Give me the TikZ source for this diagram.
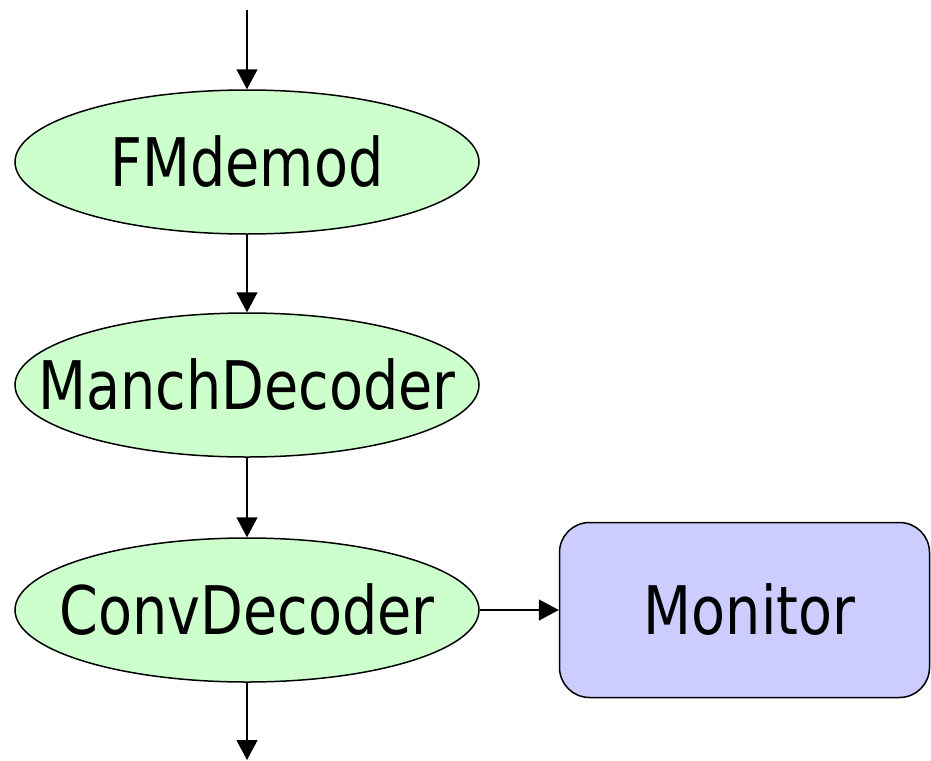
\documentclass[tikz,border=0pt]{standalone}
\usepackage{fontspec}
\setmainfont[FakeStretch=0.83]{DejaVu Sans}
\usetikzlibrary{shapes.geometric,arrows.meta}
\begin{document}
\begin{tikzpicture}[x=1pt,y=-1pt,
  txt/.style={font=\fontsize{67}{70}\selectfont,inner sep=0pt},
  proc/.style={ellipse,draw,line width=1.5pt,fill={rgb,255:red,204;green,255;blue,204},minimum width=464pt,minimum height=144pt,inner sep=0pt},
  mon/.style={rectangle,rounded corners=30pt,draw,line width=1.5pt,fill={rgb,255:red,204;green,204;blue,255},minimum width=370pt,minimum height=175pt,inner sep=0pt},
  conn/.style={line width=1.5pt,-{Triangle[length=20pt,width=21pt]}}]
\useasboundingbox (0,0) rectangle (931,760);
\coordinate (in) at (247,10);
\coordinate (out) at (247,760);
\node[proc] (fm) at (247,162) {};
\node[txt] (fmt) at (fm.center) {FMdemod};
\node[proc] (manch) at (247,385) {};
\node[txt] (mancht) at (manch.center) {ManchDecoder};
\node[proc] (conv) at (247,610) {};
\node[txt] (convt) at (conv.center) {ConvDecoder};
\node[mon] (monitor) at (744.5,610) {};
\node[txt] (monitort) at ([xshift=5pt]monitor.center) {Monitor};
\draw[conn] (in) -- (fm.north);
\draw[conn] (fm.south) -- (manch.north);
\draw[conn] (manch.south) -- (conv.north);
\draw[conn] (conv.south) -- (out);
\draw[conn] (conv.east) -- (monitor.west);
\end{tikzpicture}
\end{document}
